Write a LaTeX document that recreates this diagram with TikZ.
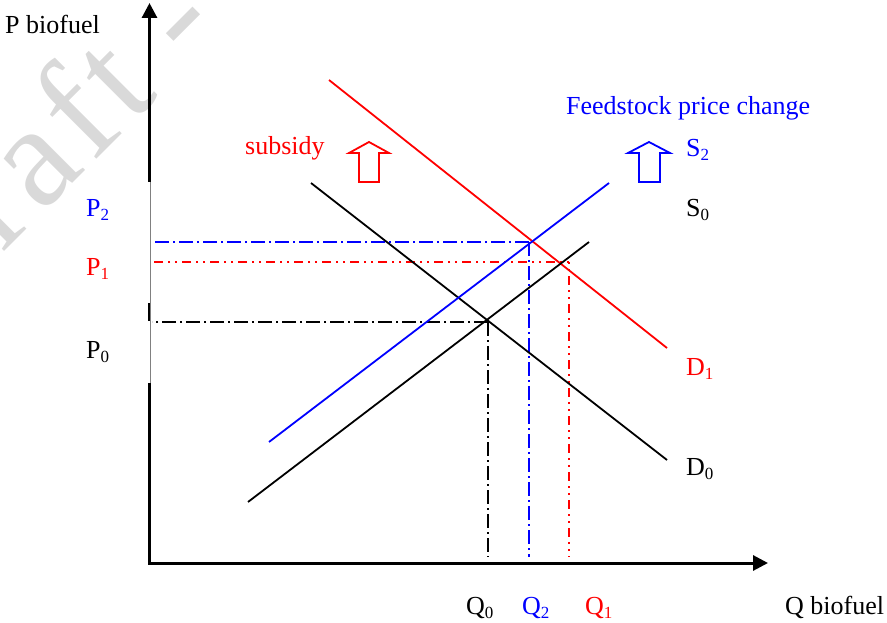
\documentclass[tikz,border=0pt]{standalone}
\usepackage{fontspec}
\setmainfont{Liberation Serif}
\newfontfamily\wmfont{Liberation Serif}[LetterSpace=5]
\usetikzlibrary{arrows.meta}
\newcommand\lsub[1]{\raisebox{-4pt}{\fontsize{17}{17}\selectfont #1}}
\tikzset{
  lbl/.style={inner sep=0pt, anchor=base west, font=\fontsize{26}{30}\selectfont},
  curve/.style={line width=1.8pt},
  axis/.style={line width=3pt},
  guideA/.style={line width=2pt, dash pattern=on 14pt off 4pt on 2pt off 4pt},
  guideB/.style={line width=2pt, dash pattern=on 2pt off 5pt on 2pt off 5pt on 9pt off 5pt},
  hollow/.style={line width=1.8pt, fill=white, line join=miter},
}
\begin{document}
\begin{tikzpicture}[x=1pt,y=-1pt]
\useasboundingbox (0,0) rectangle (887,623);
% watermark
\begin{scope}
\clip (0,0) rectangle (887,623);
\node[inner sep=0pt, anchor=base east, rotate=45, text=gray!30,
      font=\wmfont\fontsize{145}{145}\selectfont] (wm) at (225,31) {Draft -};
\end{scope}
% axes
\coordinate (O) at (149.5,563);
\coordinate (ytop) at (149.5,3);
\coordinate (xend) at (768,563);
\coordinate (ya) at (149.5,383);
\coordinate (yb) at (149.5,182);
\draw[axis] (O) -- (ya);
\draw[axis, -{Triangle[length=15pt,width=15pt]}] (yb) -- (ytop);
\draw[gray, line width=1pt] (150.5,182) -- (150.5,383);
\draw[line width=2.2pt] (149.2,303) -- (149.2,321);
\draw[axis, -{Triangle[length=15pt,width=15pt]}] (148,563) -- (xend);
% curve end points
\coordinate (d1a) at (329,80);  \coordinate (d1b) at (667,348);
\coordinate (d0a) at (311,183); \coordinate (d0b) at (667,460);
\coordinate (s0a) at (248,502); \coordinate (s0b) at (589,242);
\coordinate (s2a) at (269,442); \coordinate (s2b) at (609,183);
% equilibrium guide corners
\coordinate (E0) at (488,322);
\coordinate (E1) at (569,262);
\coordinate (E2) at (529,242);
% guide lines
\draw[guideA, black] (E0) -- (E0 -| 152,0);
\draw[guideA, black] (E0) -- (E0 |- 0,557);
\draw[guideA, blue] (E2) -- (E2 -| 152,0);
\draw[guideA, blue] (E2) -- (E2 |- 0,557);
\draw[guideB, red] (E1) -- (E1 -| 151,0);
\draw[guideB, red] (E1) -- (E1 |- 0,557);
% curves
\draw[curve, red] (d1a) -- (d1b);
\draw[curve, black] (d0a) -- (d0b);
\draw[curve, black] (s0a) -- (s0b);
\draw[curve, blue] (s2a) -- (s2b);
% hollow arrows
\draw[hollow, draw=red] (369,142) -- (389,153) -- (379,153) -- (379,182) -- (359,182) -- (359,153) -- (349,153) -- cycle;
\draw[hollow, draw=blue] (649,142) -- (670,153) -- (660,153) -- (660,182) -- (639,182) -- (639,153) -- (628,153) -- cycle;
% labels
\node[lbl] (py) at (5,34) {P biofuel};
\node[lbl] (qx) at (785,614) {Q biofuel};
\node[lbl, text=blue] (fs) at (566,115) {Feedstock price change};
\node[lbl, text=red] (sub) at (245,155) {subsidy};
\node[lbl, text=blue] (S2) at (686,157) {S\lsub{2}};
\node[lbl] (S0) at (686,217) {S\lsub{0}};
\node[lbl, text=red] (D1) at (686,375) {D\lsub{1}};
\node[lbl] (D0) at (686,475) {D\lsub{0}};
\node[lbl, text=blue] (P2) at (86,217) {P\lsub{2}};
\node[lbl, text=red] (P1) at (86,275) {P\lsub{1}};
\node[lbl] (P0) at (86,358) {P\lsub{0}};
\node[lbl] (Q0) at (466,614) {Q\lsub{0}};
\node[lbl, text=blue] (Q2) at (522,614) {Q\lsub{2}};
\node[lbl, text=red] (Q1) at (585,614) {Q\lsub{1}};
\end{tikzpicture}
\end{document}
